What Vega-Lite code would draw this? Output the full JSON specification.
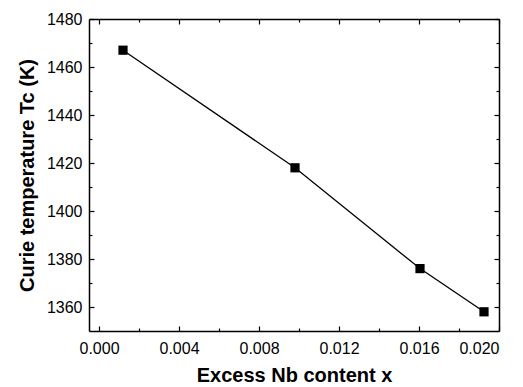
{
  "$schema": "https://vega.github.io/schema/vega-lite/v6.json",
  "width": 410,
  "height": 312,
  "autosize": {"type": "none"},
  "padding": {"left": 89, "top": 19, "right": 24, "bottom": 56},
  "background": "white",
  "data": {"values": [
    {"x": 0.0012, "tc": 1467},
    {"x": 0.0098, "tc": 1418},
    {"x": 0.01605, "tc": 1376},
    {"x": 0.01925, "tc": 1358}
  ]},
  "config": {
    "view": {"stroke": null},
    "axis": {
      "domainColor": "black", "domainWidth": 1.5, "tickColor": "black", "tickWidth": 1.2,
      "grid": false, "labelFont": "Liberation Sans", "labelFontSize": 16, "labelColor": "black",
      "titleFont": "Liberation Sans", "titleFontSize": 20, "titleFontWeight": "bold", "titleColor": "black"
    }
  },
  "resolve": {"axis": {"x": "independent", "y": "independent"}},
  "layer": [
    {
      "mark": {"type": "line", "color": "black", "strokeWidth": 1.3},
      "encoding": {
        "x": {"field": "x", "type": "quantitative", "scale": {"domain": [-0.0005, 0.02], "nice": false, "zero": false},
          "axis": {"orient": "bottom", "values": [0, 0.004, 0.008, 0.012, 0.016, 0.02], "format": ".3f", "tickSize": -5, "labelPadding": 14, "title": "Excess Nb content x", "titlePadding": 9}},
        "y": {"field": "tc", "type": "quantitative", "scale": {"domain": [1350, 1480], "nice": false, "zero": false},
          "axis": {"orient": "left", "values": [1360, 1380, 1400, 1420, 1440, 1460, 1480], "format": "d", "tickSize": -5, "labelPadding": 12, "title": "Curie temperature Tc (K)", "titlePadding": 9}}
      }
    },
    {
      "mark": {"type": "square", "color": "black", "opacity": 1, "size": 85},
      "encoding": {
        "x": {"field": "x", "type": "quantitative",
          "axis": {"orient": "top", "values": [0, 0.004, 0.008, 0.012, 0.016, 0.02], "labels": false, "tickSize": -5, "title": null}},
        "y": {"field": "tc", "type": "quantitative",
          "axis": {"orient": "right", "values": [1360, 1380, 1400, 1420, 1440, 1460, 1480], "labels": false, "tickSize": -5, "title": null}}
      }
    },
    {
      "mark": {"type": "point", "opacity": 0},
      "encoding": {
        "x": {"field": "x", "type": "quantitative",
          "axis": {"orient": "bottom", "values": [0.002, 0.006, 0.01, 0.014, 0.018], "labels": false, "domain": false, "tickSize": -3, "title": null}},
        "y": {"field": "tc", "type": "quantitative",
          "axis": {"orient": "left", "values": [1370, 1390, 1410, 1430, 1450, 1470], "labels": false, "domain": false, "tickSize": -3, "title": null}}
      }
    },
    {
      "mark": {"type": "point", "opacity": 0},
      "encoding": {
        "x": {"field": "x", "type": "quantitative",
          "axis": {"orient": "top", "values": [0.002, 0.006, 0.01, 0.014, 0.018], "labels": false, "domain": false, "tickSize": -3, "title": null}},
        "y": {"field": "tc", "type": "quantitative",
          "axis": {"orient": "right", "values": [1370, 1390, 1410, 1430, 1450, 1470], "labels": false, "domain": false, "tickSize": -3, "title": null}}
      }
    }
  ]
}
